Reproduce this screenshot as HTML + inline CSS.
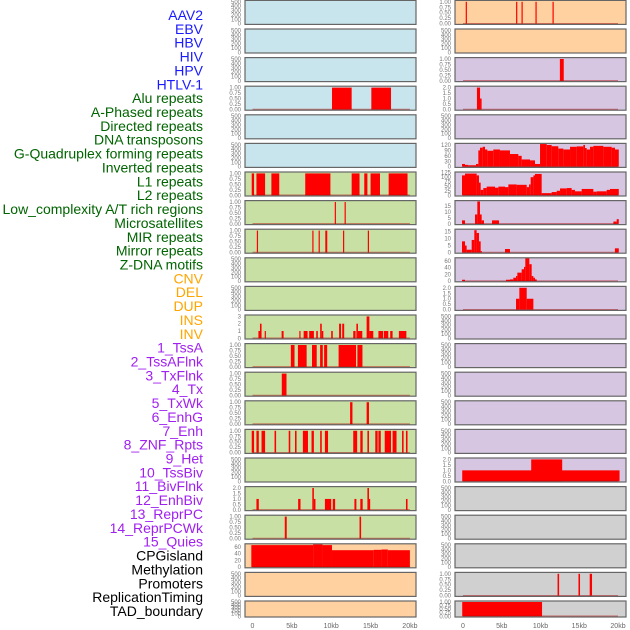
<!DOCTYPE html>
<html><head><meta charset="utf-8"><style>
html,body{margin:0;padding:0;background:#fff;}
svg{display:block;font-family:"Liberation Sans",sans-serif;}
</style></head><body>
<svg id="chart" width="630" height="630" viewBox="0 0 630 630" xmlns="http://www.w3.org/2000/svg"></svg>
<script>
// ---- data ----
const trackLabels = ["AAV2","EBV","HBV","HIV","HPV","HTLV-1","Alu repeats","A-Phased repeats","Directed repeats","DNA transposons","G-Quadruplex forming repeats","Inverted repeats","L1 repeats","L2 repeats","Low_complexity A/T rich regions","Microsatellites","MIR repeats","Mirror repeats","Z-DNA motifs","CNV","DEL","DUP","INS","INV","1_TssA","2_TssAFlnk","3_TxFlnk","4_Tx","5_TxWk","6_EnhG","7_Enh","8_ZNF_Rpts","9_Het","10_TssBiv","11_BivFlnk","12_EnhBiv","13_ReprPC","14_ReprPCWk","15_Quies","CPGisland","Methylation","Promoters","ReplicationTiming","TAD_boundary"];
const labelGroups = ["v","v","v","v","v","v","r","r","r","r","r","r","r","r","r","r","r","r","r","s","s","s","s","s","c","c","c","c","c","c","c","c","c","c","c","c","c","c","c","o","o","o","o","o"];
const xTicks = [0,5,10,15,20];
const xTickLabels = ["0","5kb","10kb","15kb","20kb"];
const leftBg  = ["b","b","b","b","b","b","g","g","g","g","g","g","g","g","g","g","g","g","g","p","p","p"];
const rightBg = ["p","p","u","u","u","u","u","u","u","u","u","u","u","u","u","u","u","y","y","y","y","y"];
const T500=[0,100,200,300,400,500], T01=[0,0.25,0.5,0.75,1], T2=[0,0.5,1,1.5,2], T3=[0,1,2,3], T60=[0,20,40,60], T120=[0,30,60,90,120], T125=[0,25,50,75,100,125], T15=[0,5,10,15];
// left column segments [startKb, endKb, value]
const segAlu = [[10.1,12.6,1],[15.1,17.6,1]];
const segL1 = [[-0.1,0.2,1],[0.5,1.6,1],[2.4,3.4,1],[6.7,9.9,1],[12.6,13.6,1],[14.2,14.6,1],[15.0,16.2,1],[17.3,19.7,1]];
const segL2 = [[10.45,10.6,1],[11.7,11.85,1]];
const segLow = [[0.55,0.7,1],[7.6,7.75,1],[8.4,8.55,1],[9.25,9.5,1],[11.5,11.65,1],[14.65,14.8,1]];
const segMirror = [[0.75,1.0,1],[0.95,1.15,2],[1.55,1.7,1],[3.7,3.95,1],[5.95,6.1,1],[6.5,7.0,1],[7.2,7.8,1],[8.1,8.3,1],[8.6,8.8,2],[8.8,9.0,1],[10.0,10.2,1],[11.0,11.25,2],[11.4,11.65,2],[12.8,13.1,1],[13.2,13.4,2],[13.4,13.95,1],[14.5,14.85,3],[14.85,15.35,1],[16.0,16.6,1],[16.7,17.25,1],[17.5,17.8,1],[18.6,19.55,1]];
const segZdna = [[4.87,5.34,1],[5.77,6.88,1],[7.56,8.16,1],[8.59,8.93,1],[9.1,9.49,1],[10.94,13.16,1],[13.33,13.97,1]];
const segCnv = [[3.72,4.32,1]];
const segDel = [[12.4,12.7,1],[14.5,14.8,1]];
const segDup = [[-0.1,0.2,1],[0.5,0.8,1],[1.15,1.6,1],[2.8,3.0,1],[4.6,4.8,1],[5.4,5.6,1],[6.4,7.05,1],[7.5,7.8,1],[8.6,8.8,1],[9.2,9.6,1],[12.8,13.3,1],[13.7,14.0,1],[14.6,14.8,1],[15.6,15.9,1],[16.0,16.3,1],[16.8,17.6,1],[17.8,18.3,1],[19.0,19.2,1],[19.5,19.7,1]];
const segTx = [[0.5,0.8,1],[5.8,6.1,1],[7.6,7.8,2],[7.8,8.0,1],[9.2,10.0,1],[10.2,10.5,1],[12.95,13.2,1],[13.7,14.0,1],[14.6,14.8,2],[14.8,14.95,1],[19.5,19.7,1]];
const segEnhG = [[4.1,4.35,1],[13.6,13.8,1]];
const segCpg = [[-0.15,7.7,65],[7.7,8.9,67],[8.9,10.1,65],[10.1,15.4,50],[15.4,16.4,51],[16.4,17.2,52],[17.2,20.0,50]];
// right column segments
const segR0 = [[0.35,0.5,1],[6.85,7.0,1],[7.55,7.7,1],[9.35,9.5,1],[11.55,11.7,1]];
const segR2 = [[12.5,13.0,1]];
const segR3 = [[1.8,2.2,2],[2.2,2.4,1]];
const segR5 = [[-0.13,0.26,15],[0.26,0.69,10],[0.69,1.68,8],[1.68,1.98,15],[1.98,2.19,90],[2.19,2.54,105],[2.54,2.84,110],[2.84,3.14,95],[3.14,3.91,88],[3.91,4.77,95],[4.77,6.06,90],[6.06,7.14,70],[7.14,7.57,60],[7.57,8.65,40],[8.65,9.29,35],[9.29,9.94,15],[9.94,10.8,125],[10.8,11.44,120],[11.44,12.3,113],[12.3,12.95,100],[12.95,13.81,95],[13.81,14.67,110],[14.67,15.53,112],[15.53,15.74,120],[15.74,15.96,103],[15.96,16.39,95],[16.39,16.82,110],[16.82,18.11,115],[18.11,19.18,110],[19.18,19.61,105],[19.61,20.1,95]];
const segR6 = [[-0.13,0.26,110],[0.26,1.76,120],[1.76,2.06,110],[2.06,2.28,70],[2.28,2.62,30],[2.62,3.05,40],[3.05,4.13,48],[4.13,4.56,42],[4.56,5.42,48],[5.42,5.85,45],[5.85,6.92,60],[6.92,8.22,58],[8.22,8.52,45],[8.52,8.73,60],[8.73,9.08,100],[9.08,9.29,110],[9.29,10.15,118],[10.15,11.44,12],[11.44,12.09,18],[12.09,12.52,25],[12.52,13.38,38],[13.38,14.02,40],[14.02,14.45,30],[14.45,15.31,22],[15.31,16.82,35],[16.82,17.25,20],[17.25,18.54,22],[18.54,18.97,30],[18.97,20.1,35]];
const segR7 = [[-0.13,0.26,3],[1.55,1.85,8],[1.85,2.19,19],[2.19,2.41,8],[2.41,2.71,3],[3.74,4.65,3],[19.4,19.83,2],[19.83,20.1,4]];
const segR8 = [[-0.13,0.26,8],[0.26,0.47,5],[0.47,1.12,2],[1.12,1.46,9],[1.46,1.76,16],[1.76,2.06,14],[2.06,2.28,8],[2.28,2.41,1],[5.42,6.06,2.5],[19.6,20.1,3]];
const segR9 = [[-0.13,0.26,4],[5.55,6.06,4],[6.06,6.49,5],[6.49,6.84,10],[6.84,7.01,15],[7.01,7.57,25],[7.57,7.87,35],[7.87,8.04,42],[8.04,8.56,68],[8.56,8.86,50],[8.86,9.08,15],[9.08,9.29,10],[9.29,9.51,5]];
const segR10 = [[6.84,7.27,1],[7.27,8.22,2],[8.22,9.08,1]];
const segR16 = [[-0.1,20.2,1],[8.8,12.8,2]];
const segR20 = [[12.2,12.4,1],[14.9,15.1,1],[16.35,16.65,1]];
const segR21 = [[-0.1,10.2,1]];
const panelCol = [0,0,0,0,0,0,0,0,0,0,0,0,0,0,0,0,0,0,0,0,0,0, 1,1,1,1,1,1,1,1,1,1,1,1,1,1,1,1,1,1,1,1,1,1];
const panelRow = [0,1,2,3,4,5,6,7,8,9,10,11,12,13,14,15,16,17,18,19,20,21, 0,1,2,3,4,5,6,7,8,9,10,11,12,13,14,15,16,17,18,19,20,21];
const panelTicks = [T500,T500,T500,T01,T500,T500,T01,T01,T01,T500,T500,T3,T01,T01,T01,T01,T500,T2,T01,T60,T500,T500,
                    T01,T500,T01,T2,T500,T120,T125,T15,T15,T60,T2,T500,T500,T500,T500,T500,T2,T500,T500,T500,T01,T01];
const panelSegs = [null,null,null,segAlu,null,null,segL1,segL2,segLow,null,null,segMirror,segZdna,segCnv,segDel,segDup,null,segTx,segEnhG,segCpg,null,null,
                   segR0,null,segR2,segR3,null,segR5,segR6,segR7,segR8,segR9,segR10,null,null,null,null,null,segR16,null,null,null,segR20,segR21];
const panelMax = [525,525,525,1.05,525,525,1.05,1.05,1.05,525,525,3.15,1.05,1.05,1.05,1.05,525,2.1,1.05,68,525,525,
                  1.05,525,1.05,2.1,525,127,127,19.5,16.5,68,2.1,525,525,525,525,525,2.1,525,525,525,1.05,1.05];

// ---- drawing ----
const NS="http://www.w3.org/2000/svg";
const svg=document.getElementById('chart');
const colX=[245,455], colW=171;
const zeroX=[252.5,463], pxPerKb=[7.87,7.75];
const groupColor={v:"#1a1aff",r:"#006400",s:"#ffa500",c:"#a020f0",o:"#000000"};
const bgColor={b:"#c8e4ec",g:"#c8e0a4",p:"#ffd0a0",u:"#d6c6e2",y:"#d0d0d0"};
function xScale(col,kb){return zeroX[col]+kb*pxPerKb[col];}
function rowTop(r){return 0.4+28.6*r;}
function rowH(r){return r===21?16:24;}
function yScale(r,maxV,v){const b=rowTop(r)+rowH(r)-0.7;const t=rowTop(r)+0.3;return b-(v/maxV)*(b-t);}
function mk(tag,attrs){const e=document.createElementNS(NS,tag);for(const k in attrs)e.setAttribute(k,attrs[k]);return e;}

trackLabels.forEach((lab,i)=>{
  const t=mk('text',{x:203,y:15+i*13.86+5,'text-anchor':'end','font-size':'14',fill:groupColor[labelGroups[i]]});
  
  
  t.textContent=lab;svg.appendChild(t);
});

for(let p=0;p<panelCol.length;p++){
  const c=panelCol[p], r=panelRow[p], top=rowTop(r), h=rowH(r), maxV=panelMax[p];
  const g=mk('g',{});
  
  
  svg.appendChild(g);
  const bg=(c?rightBg:leftBg)[r];
  const rect=mk('rect',{x:colX[c],y:top,width:colW,height:h,fill:bgColor[bg]});
  
  
  g.appendChild(rect);
  const segs=panelSegs[p];
  if(segs){
    segs.forEach(s=>{
      const x0=xScale(c,s[0]),x1=xScale(c,s[1]),y=yScale(r,maxV,s[2]),y0=yScale(r,maxV,0);
      const b=mk('rect',{x:x0,y:y,width:Math.max(1.2,x1-x0),height:Math.max(0,y0-y),fill:'#ff0000'});
      
      
      g.appendChild(b);
    });
    const y0=yScale(r,maxV,0);
    const ln=mk('line',{x1:xScale(c,0),x2:xScale(c,20),y1:y0,y2:y0,stroke:'rgba(180,0,0,0.5)','stroke-width':1.5});
    
    
    g.appendChild(ln);
  }
  const fr=mk('rect',{x:colX[c],y:top,width:colW,height:h,fill:'none',stroke:'#666','stroke-width':1.2});
  
  
  g.appendChild(fr);
  panelTicks[p].forEach(tv=>{
    const maxT=panelTicks[p][panelTicks[p].length-1];
    const txt=(maxT<=1?tv.toFixed(2):(maxT===2?tv.toFixed(1):String(tv)));
    const t=mk('text',{x:colX[c]-4,y:yScale(r,maxV,tv)+2,'text-anchor':'end','font-size':'6',fill:'#777'});
    
    
    t.textContent=txt;g.appendChild(t);
  });
}

for(let c=0;c<2;c++){
  xTicks.forEach((kv,i)=>{
    const t=mk('text',{x:xScale(c,kv),y:628,'text-anchor':'middle','font-size':'7',fill:'#666'});
    
    
    t.textContent=xTickLabels[i];svg.appendChild(t);
  });
}
</script>
</body></html>
